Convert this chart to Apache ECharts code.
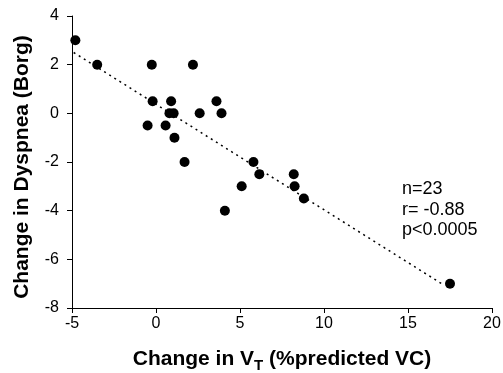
<!DOCTYPE html>
<html>
<head>
    <meta charset="UTF-8">
    <title>Dyspnea vs VT</title>
    <script src="https://cdn.jsdelivr.net/npm/echarts/dist/echarts.min.js"></script>
    <style>
        html, body { margin: 0; padding: 0; background: #fff; }
        #chart { width: 503px; height: 373px; }
    </style>
</head>
<body>
<div id="chart"></div>
<script>
    // change in VT (%predicted VC) vs change in dyspnea (Borg)
    var vtChange = [-4.8, -3.5, -0.25, 2.2, -0.2, 0.9, 3.6, 0.8, 1.05, 2.6, 3.9,
                    -0.5, 0.57, 1.1, 1.7, 5.8, 6.15, 5.1, 8.2, 8.25, 8.8, 4.1, 17.5];
    var borgChange = [3, 2, 2, 2, 0.5, 0.5, 0.5, 0, 0, 0, 0,
                      -0.5, -0.5, -1, -2, -2, -2.5, -3, -2.5, -3, -3.5, -4, -7];
    // regression line ends
    var fitX = [-4.9, 17.0];
    var fitY = [2.5, -7.0];
    var statLines = ['n=23', 'r= -0.88', 'p<0.0005'];

    var pts = vtChange.map(function (x, i) { return [x, borgChange[i]]; });
    var fit = fitX.map(function (x, i) { return [x, fitY[i]]; });

    var font = 'Liberation Sans, Arial, sans-serif';
    var chart = echarts.init(document.getElementById('chart'));

    chart.setOption({
        animation: false,
        grid: { left: 72, right: 11, top: 16, bottom: 65, outerBoundsMode: 'none', containLabel: false },
        xAxis: {
            type: 'value', min: -5, max: 20, interval: 5,
            splitLine: { show: false },
            axisLine: { onZero: false, lineStyle: { color: '#000', width: 1 } },
            axisTick: { length: 5, lineStyle: { color: '#000' } },
            axisLabel: { color: '#000', fontSize: 16, fontFamily: font, margin: 8 },
            name: '{b|Change in V}{s|T}{b| (%predicted VC)}',
            nameLocation: 'middle', nameGap: 38,
            nameTextStyle: {
                rich: {
                    b: { fontSize: 21, fontWeight: 'bold', fontFamily: font, color: '#000' },
                    s: { fontSize: 15, fontWeight: 'bold', fontFamily: font, color: '#000', padding: [12, 0, 0, 0] }
                }
            }
        },
        yAxis: {
            type: 'value', min: -8, max: 4, interval: 2,
            splitLine: { show: false },
            axisLine: { onZero: false, lineStyle: { color: '#000', width: 1 } },
            axisTick: { length: 5, lineStyle: { color: '#000' } },
            axisLabel: { color: '#000', fontSize: 16, fontFamily: font, margin: 13 },
            name: 'Change in Dyspnea (Borg)',
            nameLocation: 'middle', nameGap: 39,
            nameTextStyle: { fontSize: 21, fontWeight: 'bold', fontFamily: font, color: '#000', padding: [0, 10, 0, 0] }
        },
        series: [
            {
                type: 'line', data: fit, symbol: 'none', z: 1,
                lineStyle: { color: '#000', width: 1.5, type: [2, 4] }
            },
            {
                type: 'scatter', data: pts, symbolSize: 10, z: 2,
                itemStyle: { color: '#000', opacity: 1 }
            }
        ],
        graphic: [{
            type: 'text', left: 402, top: 179,
            style: {
                text: statLines.join('\n'),
                fontSize: 18, fontFamily: font, fill: '#000', lineHeight: 20.5
            }
        }]
    });
</script>
</body>
</html>
